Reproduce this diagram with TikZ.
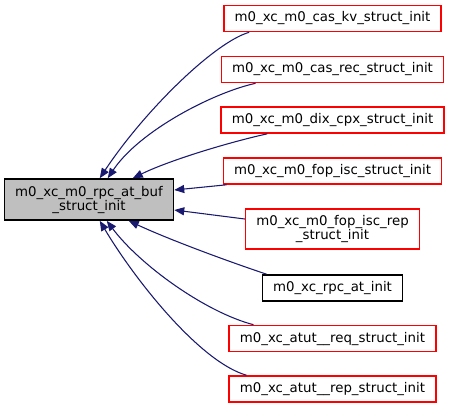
\documentclass[tikz,border=0pt]{standalone}
\usepackage{fontspec}
\setmainfont{DejaVu Sans}
\usetikzlibrary{arrows.meta,calc}
\definecolor{EdgeBlue}{HTML}{191970}
\definecolor{NodeRed}{HTML}{FF0000}
\definecolor{MainGrey}{HTML}{BFBFBF}
\tikzset{
  fnbox/.style={draw=NodeRed, fill=white, line width=1.2pt, minimum height=19.5pt, inner xsep=8pt, inner ysep=2pt, align=center, font=\fontsize{10}{10.5}\selectfont},
  tallbox/.style={fnbox, minimum height=30pt},
  docbox/.style={fnbox, draw=black},
  mainbox/.style={fnbox, draw=black, fill=MainGrey, minimum width=126pt, minimum height=30.75pt},
  arr/.style={-{Triangle[length=7.5pt,width=6pt]}, line width=0.8pt, color=EdgeBlue}
}
\begin{document}
\begin{tikzpicture}[x=.75pt,y=-.75pt]
\useasboundingbox (0,0) rectangle (449,408);
\node[mainbox] (main) at (89,199.5) {m0\_xc\_m0\_rpc\_at\_buf\\\_struct\_init};
\foreach \nm/\yy/\st/\txt in {kv/18.5/fnbox/{m0\_xc\_m0\_cas\_kv\_struct\_init},
  rec/69.5/fnbox/{m0\_xc\_m0\_cas\_rec\_struct\_init},
  dix/120/fnbox/{m0\_xc\_m0\_dix\_cpx\_struct\_init},
  fop/171/fnbox/{m0\_xc\_m0\_fop\_isc\_struct\_init},
  foprep/229/tallbox/{m0\_xc\_m0\_fop\_isc\_rep\\\_struct\_init},
  rpcinit/288/docbox/{m0\_xc\_rpc\_at\_init},
  req/338.5/fnbox/{m0\_xc\_atut\_\_req\_struct\_init},
  rep/389/fnbox/{m0\_xc\_atut\_\_rep\_struct\_init}}{\node[\st] (\nm) at (332.5,\yy) {\txt};}
% callers -> main
\draw[arr] ($(kv.south west)+(26,0)$) .. controls (215,42) and (145,110) .. ($(main.north west)+(96,0)$);
\draw[arr] ($(rec.south west)+(35,0)$) .. controls (215,92) and (140,130) .. ($(main.north west)+(104,0)$);
\draw[arr] ($(dix.south west)+(47,0)$) .. controls (230,142) and (170,160) .. ($(main.north west)+(129,0)$);
\draw[arr] ($(fop.south west)+(4,0)$) -- ($(main.east)+(0,-9.5)$);
\draw[arr] ($(foprep.west)+(0,-10)$) -- ($(main.east)+(0,10.5)$);
\draw[arr] ($(rpcinit.north west)+(5,0)$) .. controls (230,262) and (170,240) .. ($(main.south west)+(125,0)$);
\draw[arr] ($(req.north west)+(25,0)$) .. controls (205,312) and (140,265) .. ($(main.south west)+(103,0)$);
\draw[arr] ($(rep.north west)+(18,0)$) .. controls (200,362) and (135,280) .. ($(main.south west)+(96,0)$);
\end{tikzpicture}
\end{document}
